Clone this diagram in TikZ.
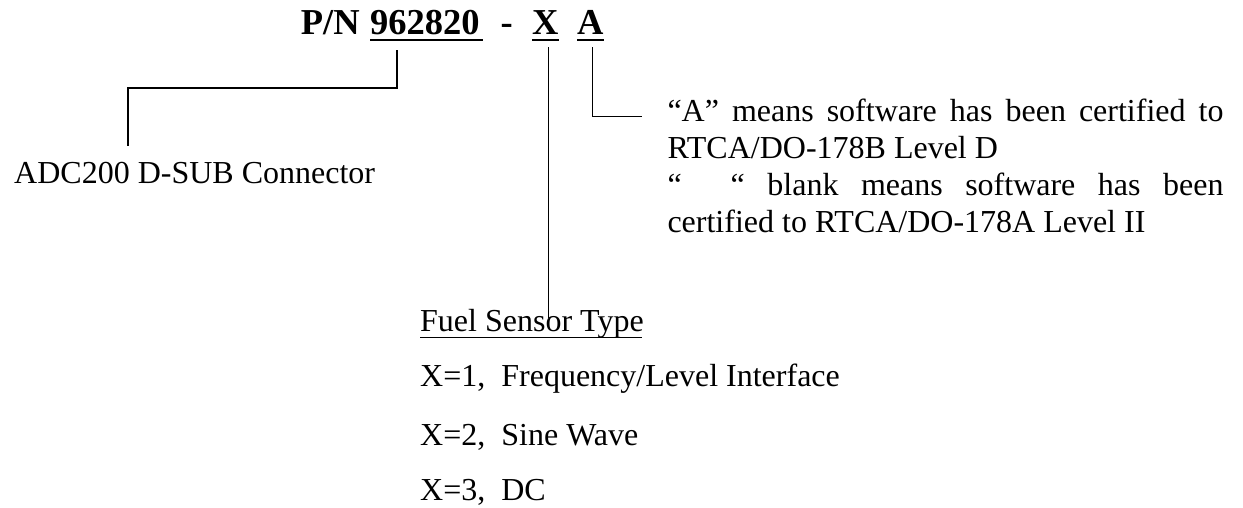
\documentclass[tikz,border=0pt]{standalone}
\usepackage{fontspec}
\setmainfont{Liberation Serif}
\begin{document}
\begin{tikzpicture}[x=1pt,y=-1pt,
  conn/.style={line width=1.6pt},
  uline/.style={line width=2.8pt},
  thinline/.style={line width=1.6pt},
  txt/.style={anchor=base west, inner sep=0pt, font=\fontsize{32}{37}\selectfont},
  ttl/.style={anchor=base west, inner sep=0pt, font=\fontsize{36.5}{40}\selectfont\bfseries}]
\useasboundingbox (0,0) rectangle (1243,507);
% title
\node[ttl] (pn) at (300.7,34) {P/N};
\node[ttl] (num) at (370,34) {962820};
\node[ttl] (dash) at (500.5,34) {-};
\node[ttl] (xn) at (532,34) {X};
\node[ttl] (an) at (577,34) {A};
\draw[uline] (num.base west) ++(0,6) -- ++(113,0);
\draw[uline] (xn.base west) ++(0,6) -- ++(26.5,0);
\draw[uline] (an.base west) ++(0,6) -- ++(26.5,0);
% labels
\node[txt] (adc) at (14,183) {ADC200 D-SUB Connector};
\node[txt] (note) at (667.3,121.7) {\parbox[t]{556pt}{\fontsize{32}{37}\selectfont
“A” means software has been certified to\linebreak
RTCA/DO-178B Level D\newline
“\hspace*{49pt}“ blank means software has been\linebreak
certified to RTCA/DO-178A Level II}};
\node[txt] (fst) at (420,331.7) {Fuel Sensor Type};
\draw[thinline] (fst.base west) ++(0,5.6) -- ++(221.7,0);
\node[txt] (l1) at (420,386.7) {X=1,\ \ Frequency/Level Interface};
\node[txt] (l2) at (420,445) {X=2,\ \ Sine Wave};
\node[txt] (l3) at (420,500.7) {X=3,\ \ DC};
% connectors
\coordinate (c1top) at (396.7,50);
\coordinate (c1bot) at (127.7,146);
\draw[conn] (c1top) -- ++(0,38) -| (c1bot);
\coordinate (c2top) at (548.3,47);
\coordinate (c2bot) at (548.3,318.3);
\draw[conn] (c2top) -- (c2bot);
\coordinate (c3top) at (592.3,47);
\coordinate (c3end) at (641.7,116.5);
\draw[conn] (c3top) |- (c3end);
\end{tikzpicture}
\end{document}
